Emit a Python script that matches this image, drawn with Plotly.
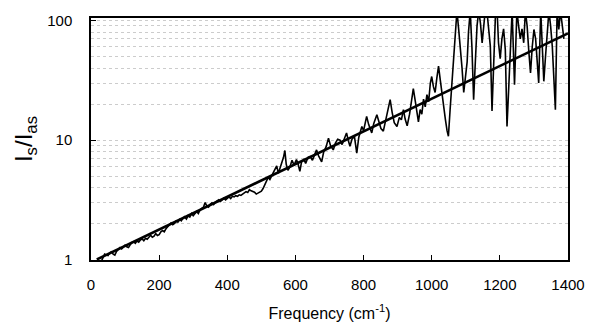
import plotly.graph_objects as go

freq = [30, 35, 40, 45, 50, 55, 60, 65, 70, 75, 80, 85, 90, 95, 100, 105, 110, 115, 120, 125,
        130, 135, 140, 145, 150, 155, 160, 165, 170, 175, 180, 185, 190, 195, 200, 205, 210, 215,
        220, 225, 230, 235, 240, 245, 250, 255, 260, 265, 270, 275, 280, 285, 290, 295, 300, 305,
        310, 315, 320, 325, 330, 335, 340, 345, 350, 355, 360, 365, 370, 375, 380, 385, 390, 395,
        400, 405, 410, 415, 420, 425, 430, 435, 440, 445, 450, 455, 460, 465, 470, 475, 480, 485,
        490, 495, 500, 505, 510, 515, 520, 525, 530,
        535, 545, 550, 555, 560, 565, 569, 573, 578, 584, 590, 596, 603, 608, 613, 618, 625, 630,
        637, 643, 650, 656, 662, 668, 677, 683, 690, 697, 703, 711, 717, 724, 731, 737, 744, 750,
        755, 760, 766, 773, 780, 786, 795, 800, 809, 815, 824, 830, 839, 845, 851, 858, 864, 870,
        878, 884, 890, 898, 905, 911, 917, 922, 928, 935, 940, 946, 952, 957, 961, 966, 971, 976,
        981, 986, 991, 996, 1000, 1005, 1010, 1015, 1020, 1025, 1030, 1035, 1040, 1045, 1049, 1054,
        1059, 1064, 1069, 1074, 1079, 1084, 1089, 1094, 1099, 1104, 1108, 1113, 1118, 1123, 1128,
        1133, 1138, 1143, 1148, 1152, 1157, 1162, 1167, 1172, 1177, 1182, 1187, 1192, 1196, 1201,
        1206, 1211, 1216, 1221, 1226, 1231, 1236, 1243, 1250, 1255, 1260, 1265, 1270, 1275, 1280,
        1285, 1290, 1295, 1300, 1305, 1309, 1314, 1320, 1325, 1329, 1334, 1339, 1344, 1349, 1354,
        1358, 1363, 1368, 1373, 1378, 1383, 1388]

ratio = [0.97, 1.06, 1.12, 1.10, 1.09, 1.15, 1.17, 1.12, 1.10, 1.18, 1.23, 1.27, 1.24, 1.30, 1.33,
         1.29, 1.27, 1.34, 1.40, 1.42, 1.38, 1.44, 1.41, 1.47, 1.50, 1.45, 1.52, 1.49, 1.56, 1.61,
         1.55, 1.58, 1.66, 1.60, 1.63, 1.72, 1.76, 1.72, 1.82, 1.88, 1.96, 2.04, 1.97, 2.02, 2.12,
         2.07, 2.18, 2.12, 2.24, 2.30, 2.20, 2.34, 2.28, 2.44, 2.34, 2.46, 2.54, 2.44, 2.62, 2.70,
         2.76, 3.02, 2.82, 2.76, 2.92, 3.00, 2.90, 3.04, 3.12, 3.18, 3.08, 3.20, 3.28, 3.18, 3.30,
         3.36, 3.26, 3.40, 3.36, 3.44, 3.40, 3.50, 3.46, 3.54, 3.62, 3.72, 3.66, 3.86, 3.78, 3.72,
         3.68, 3.55, 3.62, 3.70, 3.75, 3.95, 4.30, 4.60, 4.90, 4.70, 5.00,
         5.4, 6.1, 5.3, 5.8, 6.4, 7.2, 8.2, 6.3, 5.6, 6.0, 6.8, 6.2, 6.9, 6.3, 5.5, 6.6, 6.9, 6.4,
         7.2, 7.3, 6.8, 7.5, 8.3, 7.4, 6.6, 8.0, 8.8, 10.4, 9.0, 8.3, 9.4, 10.2, 10.0, 9.2, 10.5,
         11.5, 10.0, 8.9, 10.2, 10.8, 7.8, 10.6, 13.0, 12.0, 15.8, 13.5, 11.5, 13.8, 16.3, 14.0,
         12.5, 11.9, 14.5, 16.5, 21.8, 17.0, 14.0, 13.0, 15.5, 14.8, 18.0, 15.0, 13.2, 16.5, 20.0,
         27.0, 21.0, 15.8, 14.2, 18.0, 16.5, 22.0, 19.0, 24.0, 21.0, 30.0, 34.0, 28.0, 25.0, 33.0,
         41.5, 32.0, 24.0, 20.0, 15.0, 12.0, 10.8, 18.0, 30.0, 50.0, 75.0, 120, 85, 61, 40, 25, 35,
         45, 80, 120, 60, 21.8, 45, 90, 120, 95, 65, 90, 120, 120, 85, 61, 17.5, 40, 110, 120, 65,
         48, 70, 85, 57, 13, 30, 80, 120, 29, 120, 90, 70, 85, 65, 120, 90, 55, 36.5, 60, 84, 70,
         50, 30, 120, 60, 31, 50, 80, 120, 90, 60, 35, 18, 120, 84, 120, 95, 70]

fit_freq = [17, 1400]
fit_ratio = [1.01, 78]

x_ticks = [0, 200, 400, 600, 800, 1000, 1200, 1400]
y_ticks = [1, 10, 100]

fig = go.Figure()
fig.add_trace(go.Scatter(x=freq, y=ratio, mode="lines",
                         line=dict(color="black", width=1.6), showlegend=False))
fig.add_trace(go.Scatter(x=fit_freq, y=fit_ratio, mode="lines",
                         line=dict(color="black", width=2.6), showlegend=False))

font = "Liberation Sans, Arial, sans-serif"
fig.update_layout(
    width=591, height=322,
    margin=dict(l=91, r=23, t=18, b=62),
    paper_bgcolor="white", plot_bgcolor="white",
    font=dict(family=font, color="black", size=15),
    xaxis=dict(range=[0, 1400], tickvals=x_ticks, ticktext=[str(v) for v in x_ticks],
               automargin=False,
               showgrid=False, zeroline=False, showline=True, linecolor="black", linewidth=1.5,
               mirror=True, ticks="inside", ticklen=5, tickcolor="black",
               ticklabelstandoff=10,
               title=dict(text="Frequency (cm<sup>-1</sup>)", font=dict(size=16), standoff=16)),
    yaxis=dict(type="log", range=[0, 2.02], tickvals=y_ticks, ticktext=["1", "10", "100"],
               automargin=False,
               showgrid=True, gridcolor="#cccccc", griddash="dot", gridwidth=1,
               zeroline=False, showline=True, linecolor="black", linewidth=1.5,
               mirror=True, ticks="inside", ticklen=5, tickcolor="black",
               ticklabelstandoff=14,
               minor=dict(dtick="D1", showgrid=True, gridcolor="#cccccc", griddash="dot",
                          gridwidth=1, ticks=""),
               title=dict(text="I<sub>s</sub>/I<sub>as</sub>", font=dict(size=24), standoff=8)),
)

fig.write_html("out.html", config={"displayModeBar": False},
               post_script="document.body.style.margin='0px';document.body.style.overflow='hidden';")
